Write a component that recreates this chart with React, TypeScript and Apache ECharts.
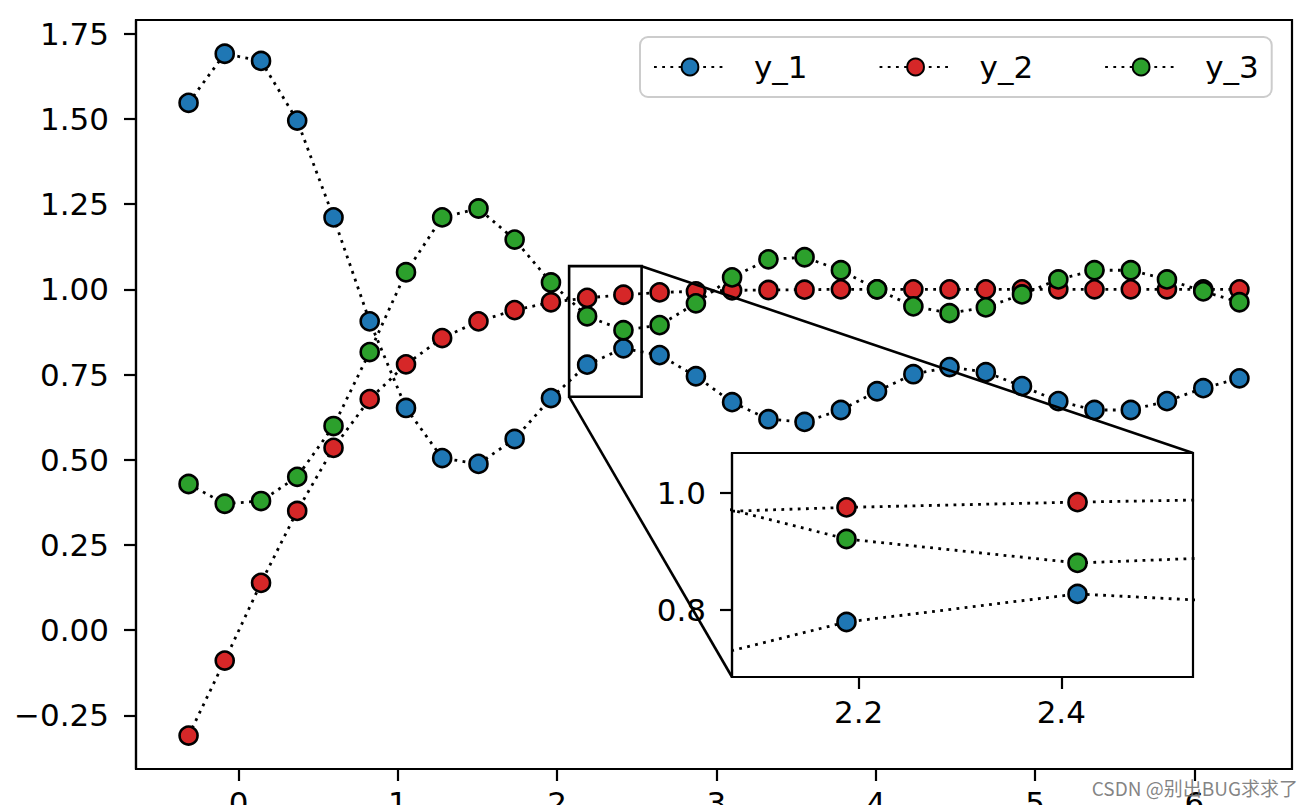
import React, { useEffect, useRef } from "react";
import * as echarts from "echarts";

const xValues = [
  -0.314, -0.087, 0.141, 0.368, 0.596, 0.823, 1.051, 1.278, 1.506, 1.733,
  1.961, 2.188, 2.416, 2.643, 2.871, 3.098, 3.326, 3.553, 3.781, 4.008,
  4.236, 4.463, 4.691, 4.918, 5.146, 5.373, 5.601, 5.828, 6.056, 6.283,
];
const y1 = [
  1.547, 1.691, 1.67, 1.495, 1.211, 0.906, 0.652, 0.505, 0.488, 0.561,
  0.681, 0.779, 0.827, 0.807, 0.745, 0.669, 0.619, 0.611, 0.646, 0.701,
  0.751, 0.772, 0.757, 0.716, 0.672, 0.646, 0.646, 0.672, 0.71, 0.739,
];
const y2 = [
  -0.309, -0.089, 0.139, 0.35, 0.535, 0.678, 0.78, 0.857, 0.906, 0.939,
  0.962, 0.975, 0.984, 0.991, 0.994, 0.997, 0.998, 0.999, 1.0, 1.0,
  1.0, 1.0, 1.0, 1.0, 1.0, 1.0, 1.0, 1.0, 1.0, 1.0,
];
const y3 = [
  0.429, 0.371, 0.379, 0.45, 0.599, 0.816, 1.05, 1.211, 1.237, 1.146,
  1.02, 0.921, 0.88, 0.895, 0.959, 1.035, 1.088, 1.094, 1.056, 1.0,
  0.95, 0.93, 0.947, 0.985, 1.029, 1.056, 1.056, 1.029, 0.994, 0.962,
];
const seriesNames = ["y_1", "y_2", "y_3"];
const seriesColors = ["#1f77b4", "#d62728", "#2ca02c"];
const xTicks = [0, 1, 2, 3, 4, 5, 6];
const yTicks = [-0.25, 0, 0.25, 0.5, 0.75, 1.0, 1.25, 1.5, 1.75];
const insetXTicks = [2.2, 2.4];
const insetYTicks = [0.8, 1.0];
const mainXRange = [-0.644, 6.613];
const mainYRange = [-0.407, 1.79];
const insetXRange = [2.075, 2.53];
const insetYRange = [0.685, 1.068];
const watermark = "CSDN @别出BUG求求了";

const FONT = "DejaVu Sans";
const FS = 31;

function makeSeries(axisIndex: number) {
  const all = [y1, y2, y3];
  return all.map((ys, i) => ({
    type: "line",
    name: seriesNames[i],
    xAxisIndex: axisIndex,
    yAxisIndex: axisIndex,
    data: xValues.map((x, j) => [x, ys[j]]),
    symbol: "circle",
    symbolSize: 18,
    showSymbol: true,
    clip: true,
    silent: true,
    lineStyle: { color: "#000", width: 2.8, type: [2.8, 5.4], cap: "butt" },
    itemStyle: { color: seriesColors[i], borderColor: "#000", borderWidth: 2.6, opacity: 1 },
    emphasis: { disabled: true },
  }));
}

function axisCommon(ticks: number[], fmt: (v: number) => string, margin: number) {
  return {
    type: "value",
    splitLine: { show: false },
    axisLine: { show: true, onZero: false, lineStyle: { color: "#000", width: 2.2 } },
    axisTick: { show: true, length: 12, customValues: ticks, lineStyle: { color: "#000", width: 2.2 } },
    axisLabel: {
      show: true,
      customValues: ticks,
      formatter: (v: number) => fmt(v),
      fontSize: FS,
      fontFamily: FONT,
      color: "#000",
      margin,
    },
  };
}

export default function App() {
  const ref = useRef<HTMLDivElement>(null);
  useEffect(() => {
    if (!ref.current) return;
    const chart = echarts.init(ref.current, null, { renderer: "svg" });
    const option: any = {
      animation: false,
      backgroundColor: "#fff",
      grid: [
        {
          left: 136, top: 20, width: 1156, height: 749,
          show: true, borderColor: "#000", borderWidth: 2.2, backgroundColor: "transparent",
          containLabel: false, outerBoundsMode: "none",
        },
        {
          left: 732, top: 453, width: 461, height: 224,
          show: true, borderColor: "#000", borderWidth: 2.2, backgroundColor: "#fff",
          containLabel: false, outerBoundsMode: "none", z: 3,
        },
      ],
      xAxis: [
        { ...axisCommon(xTicks, (v) => String(Math.round(v)), 18), gridIndex: 0, min: mainXRange[0], max: mainXRange[1] },
        { ...axisCommon(insetXTicks, (v) => v.toFixed(1), 19), gridIndex: 1, min: insetXRange[0], max: insetXRange[1], z: 4 },
      ],
      yAxis: [
        { ...axisCommon(yTicks, (v) => v.toFixed(2).replace("-", "\u2212"), 27), gridIndex: 0, min: mainYRange[0], max: mainYRange[1] },
        { ...axisCommon(insetYTicks, (v) => v.toFixed(1), 26), gridIndex: 1, min: insetYRange[0], max: insetYRange[1], z: 4 },
      ],
      legend: {
        left: 640,
        top: 37,
        orient: "horizontal",
        data: seriesNames,
        itemWidth: 72,
        itemHeight: 21,
        itemGap: 71,
        padding: [11, 13],
        backgroundColor: "rgba(255,255,255,0.8)",
        borderColor: "#cccccc",
        borderWidth: 2,
        borderRadius: 8,
        selectedMode: false,
        textStyle: { fontSize: FS, fontFamily: FONT, color: "#000", padding: [0, 0, 0, 23], lineHeight: 38 },
      },
      series: [...makeSeries(0), ...makeSeries(1).map((s) => ({ ...s, z: 5 }))],
    };
    chart.setOption(option);

    const p1 = chart.convertToPixel({ gridIndex: 0 }, [insetXRange[0], insetYRange[1]]) as number[];
    const p2 = chart.convertToPixel({ gridIndex: 0 }, [insetXRange[1], insetYRange[0]]) as number[];
    const q1 = chart.convertToPixel({ gridIndex: 1 }, [insetXRange[1], insetYRange[1]]) as number[];
    const q2 = chart.convertToPixel({ gridIndex: 1 }, [insetXRange[0], insetYRange[0]]) as number[];

    chart.setOption({
      graphic: {
        elements: [
          {
            type: "rect",
            z: 10,
            silent: true,
            shape: { x: p1[0], y: p1[1], width: p2[0] - p1[0], height: p2[1] - p1[1] },
            style: { fill: "none", stroke: "#000", lineWidth: 2.6 },
          },
          {
            type: "line",
            z: 10,
            silent: true,
            shape: { x1: p2[0], y1: p1[1], x2: q1[0], y2: q1[1] },
            style: { stroke: "#000", lineWidth: 2.6 },
          },
          {
            type: "line",
            z: 10,
            silent: true,
            shape: { x1: p1[0], y1: p2[1], x2: q2[0], y2: q2[1] },
            style: { stroke: "#000", lineWidth: 2.6 },
          },
          {
            type: "text",
            z: 100,
            silent: true,
            x: 1298,
            y: 787,
            style: {
              text: watermark,
              align: "right",
              verticalAlign: "middle",
              fontSize: 19,
              fontFamily: "Noto Sans CJK SC",
              fill: "rgba(110,110,110,0.85)",
            },
          },
        ],
      },
    });

    return () => chart.dispose();
  }, []);
  return (
    <div
      ref={ref}
      style={{ position: "absolute", left: 0, top: 0, width: 1312, height: 805 }}
    />
  );
}
